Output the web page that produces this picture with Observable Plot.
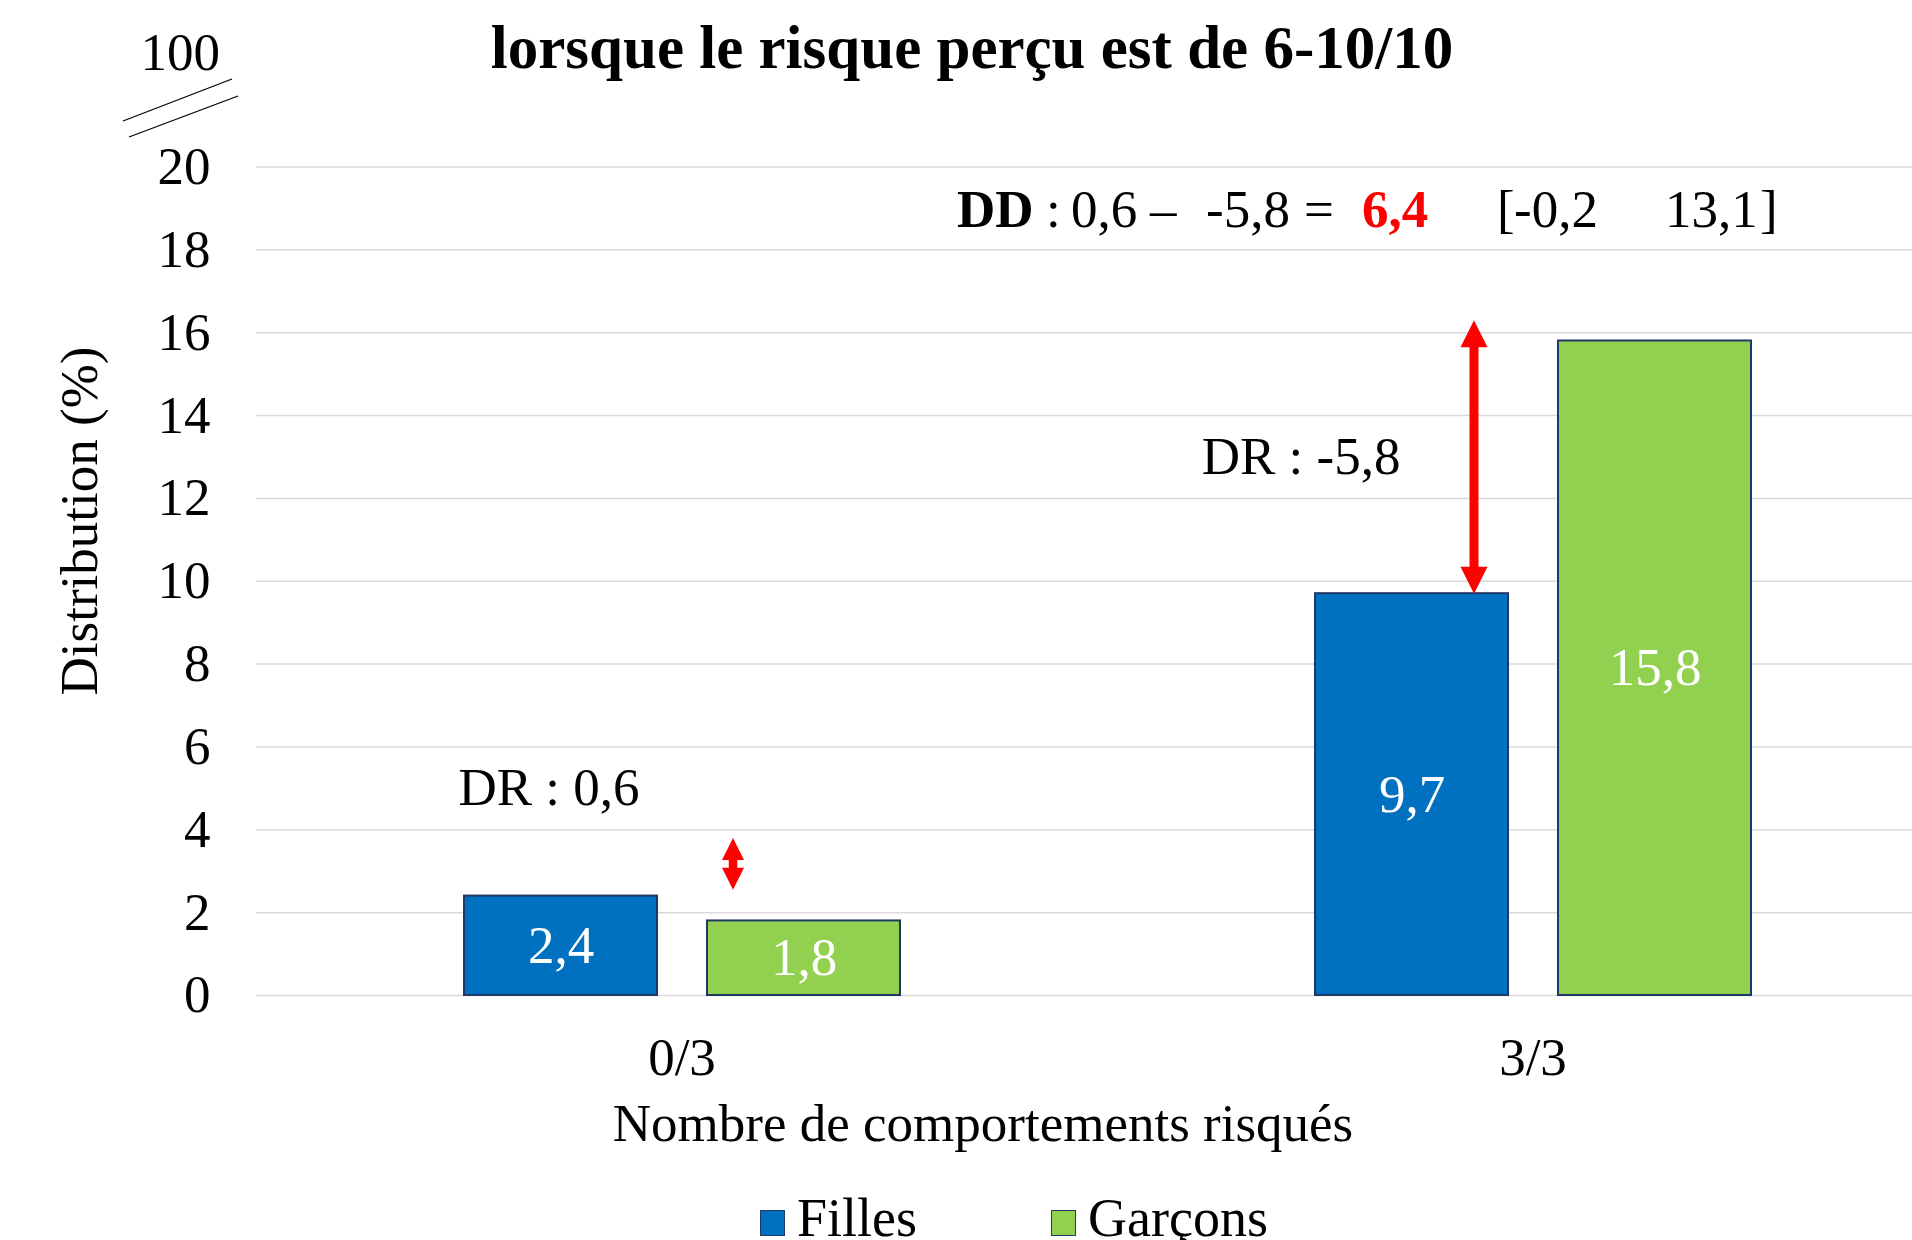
<!DOCTYPE html>
<html>
<head>
<meta charset="utf-8">
<script src="https://cdn.jsdelivr.net/npm/d3@7"></script>
<script src="https://cdn.jsdelivr.net/npm/@observablehq/plot@0.6"></script>
<style>
html, body { margin: 0; padding: 0; background: #fff; overflow: hidden; }
#wrap { position: relative; width: 1912px; height: 1240px; overflow: hidden; font-family: "Liberation Serif", "Times New Roman", serif; color: #000; background: #fff; }
#title { position: absolute; left: 0; top: 17px; width: 1944px; text-align: center; font-weight: bold; font-size: 61px; line-height: 61px; white-space: nowrap; }
#chart { position: absolute; left: 0; top: 0; width: 1958px; }
#chart svg { max-width: none !important; }
#legend { position: absolute; left: 760px; top: 1191px; font-size: 54px; line-height: 54px; white-space: nowrap; }
.sw { display: inline-block; width: 23px; height: 24px; border: 1.5px solid #203864; margin-right: 12px; }
.item { display: inline-block; }
</style>
</head>
<body>
<div id="wrap">
  <div id="chart"></div>
  <div id="title"></div>
  <div id="legend"></div>
</div>
<script>
// ---------- data ----------
const categories = ["0/3", "3/3"];
const sexes = ["Filles", "Garçons"];
const fillesValues = [2.4, 9.7];
const garconsValues = [1.8, 15.8];
const yTicks = [0, 2, 4, 6, 8, 10, 12, 14, 16, 18, 20];
const brokenTickLabel = "100";
const sexColors = ["#0070C0", "#92D050"];
const drLabels = ["DR : 0,6", "DR : -5,8"];
const drLevels = [5.0, 13.0];
const arrowSex = ["Garçons", "Filles"];
const arrowLow = [2.55, 9.7];
const arrowHigh = [3.8, 16.3];
const ddParts = ["DD", ":", "0,6", "–", "-5,8", "=", "6,4", "[", "-0,2", "13,1", "]"];
const titleText = "lorsque le risque perçu est de 6-10/10";
const xLabel = "Nombre de comportements risqués";
const yLabel = "Distribution (%)";

// ---------- build ----------
const fmt = v => String(v).replace(".", ",");
const rows = categories.flatMap((c, i) => [
  {cat: c, sex: sexes[0], value: fillesValues[i]},
  {cat: c, sex: sexes[1], value: garconsValues[i]}
]);
const drRows = categories.map((c, i) => ({cat: c, sex: sexes[0], y: drLevels[i], text: drLabels[i]}));
const arrowRows = categories.map((c, i) => ({cat: c, sex: arrowSex[i], lo: arrowLow[i], hi: arrowHigh[i]}));

function head(w, h, up) {
  const s = up ? 1 : -1;
  return {draw(ctx) { ctx.moveTo(0, 0); ctx.lineTo(w / 2, s * h); ctx.lineTo(-w / 2, s * h); ctx.closePath(); }};
}
const arrowStyle = [{dx: -71, w: 22, h: 22, sw: 8.5}, {dx: 62, w: 27, h: 27, sw: 9}];
const arrowMarks = arrowRows.flatMap((a, i) => {
  const st = arrowStyle[i];
  return [
    Plot.ruleX([a], {fx: "cat", x: "sex", y1: "hi", y2: "lo", stroke: "#FF0000", strokeWidth: st.sw, insetTop: st.h - 3, insetBottom: st.h - 3, dx: st.dx}),
    Plot.dot([a], {fx: "cat", x: "sex", y: "hi", symbol: head(st.w, st.h, true), r: 10, fill: "#FF0000", stroke: "none", dx: st.dx}),
    Plot.dot([a], {fx: "cat", x: "sex", y: "lo", symbol: head(st.w, st.h, false), r: 10, fill: "#FF0000", stroke: "none", dx: st.dx})
  ];
});
const drDx = [-12, -111];

const svg = Plot.plot({
  width: 1958,
  height: 1170,
  marginTop: 166.5,
  marginBottom: 175,
  marginLeft: 256,
  marginRight: 0,
  style: {fontFamily: '"Liberation Serif", "Times New Roman", serif', fontSize: "53px", color: "#000", background: "white", overflow: "visible", maxWidth: "none"},
  fx: {domain: categories, padding: 0, label: null, axis: "bottom", tickSize: 0, tickPadding: 42},
  x: {domain: sexes, paddingInner: 0.206, paddingOuter: 0.854, axis: null},
  y: {domain: [0, 20], ticks: yTicks, tickSize: 0, tickPadding: 46, label: null},
  color: {domain: sexes, range: sexColors},
  marks: [
    Plot.ruleY(yTicks, {stroke: "#d9d9d9", strokeWidth: 1.5}),
    Plot.barY(rows, {fx: "cat", x: "sex", y: "value", fill: "sex", stroke: "#203864", strokeWidth: 2}),
    Plot.text(rows, {fx: "cat", x: "sex", y: d => d.value / 2, text: d => fmt(d.value), fill: "white", fontSize: 53}),
    ...drRows.map((r, i) => Plot.text([r], {fx: "cat", x: "sex", y: "y", text: "text", fill: "#000", fontSize: 53, dx: drDx[i]})),
    ...arrowMarks
  ]
});
svg.style.maxWidth = "none";
svg.style.width = "1958px";
svg.style.height = "1170px";
document.getElementById("chart").appendChild(svg);

const s = d3.select(svg);
// broken axis top label and break marks
s.append("text").attr("x", 220).attr("y", 70).attr("text-anchor", "end").attr("font-size", 53).attr("fill", "#000").text(brokenTickLabel);
s.append("line").attr("x1", 123).attr("y1", 121).attr("x2", 232).attr("y2", 79).attr("stroke", "#000").attr("stroke-width", 1.3);
s.append("line").attr("x1", 129).attr("y1", 137).attr("x2", 238).attr("y2", 96).attr("stroke", "#000").attr("stroke-width", 1.3);
// axis titles
s.append("text").attr("transform", "translate(97,521) rotate(-90)").attr("text-anchor", "middle").attr("font-size", 53).attr("fill", "#000").text(yLabel);
s.append("text").attr("x", 983).attr("y", 1141).attr("text-anchor", "middle").attr("font-size", 53).attr("fill", "#000").text(xLabel);
// DD annotation
const ddX = [957, 1046, 1071, 1150, 1206, 1304, 1362, 1497, 1514, 1665, 1760];
const dd = s.append("text").attr("y", 227).attr("font-size", 53).attr("fill", "#000").attr("text-anchor", "start");
ddParts.forEach((p, i) => {
  const t = dd.append("tspan").attr("x", ddX[i]).attr("text-anchor", "start").text(p);
  if (i === 0) t.attr("font-weight", "bold");
  if (i === 6) t.attr("font-weight", "bold").attr("fill", "#FF0000");
});

// title
document.getElementById("title").textContent = titleText;
// legend
const lg = d3.select("#legend");
sexes.forEach((name, i) => {
  const it = lg.append("span").attr("class", "item").style("margin-right", i === 0 ? "134px" : "0px");
  it.append("span").attr("class", "sw").style("background", sexColors[i]);
  it.append("span").text(name);
});
</script>
</body>
</html>
